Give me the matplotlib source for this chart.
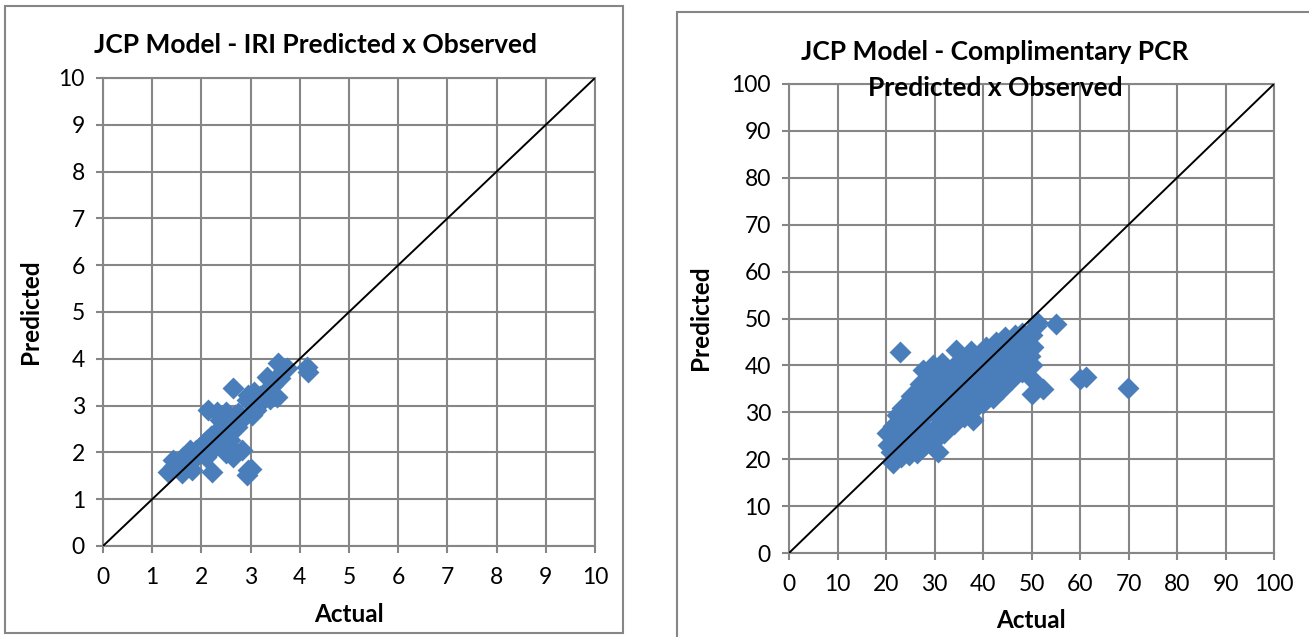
import numpy as np
import matplotlib.pyplot as plt
from matplotlib.patches import Rectangle

# Datos: IRI (actual, predicho)
iri_actual = [4.15, 4.17, 3.56, 3.73, 3.33, 3.46, 2.64, 3.06, 2.95, 3.39, 3.53, 3.26, 2.92,
              2.14, 2.31, 2.51, 2.68, 3.02, 2.38, 2.58, 2.72, 2.45, 2.28, 2.11, 2.38, 2.58,
              1.97, 1.77, 2.17, 2.51, 2.82, 2.65, 1.63, 1.90, 1.43, 1.53, 1.33, 1.60, 1.80,
              2.21, 2.95, 2.92, 3.00, 1.50, 1.70, 1.85, 2.00, 2.05, 2.20, 2.30, 2.40, 1.65,
              1.90, 2.10, 2.25, 2.45, 2.60, 2.75, 2.80, 3.20, 3.35, 3.45, 3.60, 3.40, 1.45,
              1.75, 2.35, 2.55, 3.10, 3.65]
iri_pred = [3.83, 3.72, 3.90, 3.80, 3.62, 3.51, 3.37, 3.30, 3.23, 3.26, 3.19, 3.12, 3.12,
            2.91, 2.87, 2.87, 2.80, 2.80, 2.69, 2.62, 2.55, 2.48, 2.34, 2.26, 2.26, 2.26,
            2.12, 2.05, 2.05, 1.98, 2.05, 1.91, 1.91, 1.91, 1.84, 1.69, 1.59, 1.55, 1.62,
            1.59, 1.62, 1.52, 1.65, 1.75, 1.80, 1.95, 2.00, 2.20, 2.35, 2.20, 2.40, 1.65,
            2.05, 1.90, 2.10, 2.05, 2.75, 2.85, 2.70, 3.20, 3.35, 3.45, 3.60, 3.15, 1.70,
            1.90, 2.50, 2.15, 2.90, 3.75]

# Datos: PCR complementario (actual, predicho)
pcr_actual = [20.5, 20.2, 21.0, 21.5, 21.8, 21.4, 22.2, 22.0,
              23.0, 23.5, 23.2, 23.8, 23.4, 22.9,
              24.8, 25.3, 25.0, 25.5, 24.7, 25.2,
              26.3, 26.6, 26.2, 26.8, 26.4, 27.0,
              28.0, 28.4, 27.8, 28.5, 28.2, 28.7, 27.6,
              30.0, 30.5, 29.8, 30.4, 30.0, 30.6, 29.6, 30.7,
              32.0, 32.4, 31.8, 32.5, 32.0, 32.6, 31.5,
              34.0, 34.5, 33.8, 34.4, 34.0, 34.6, 34.4,
              36.0, 36.4, 35.8, 36.5, 36.0, 36.5,
              38.0, 38.3, 37.8, 38.5, 38.0, 38.4, 37.5,
              40.0, 40.5, 39.8, 40.4, 40.0, 40.6,
              42.0, 42.4, 41.8, 42.5, 42.0, 42.6,
              44.0, 44.5, 43.8, 44.4, 44.0, 44.6,
              46.0, 46.5, 45.8, 46.4, 46.0, 46.7,
              48.0, 48.5, 47.8, 48.4, 48.0,
              50.0, 49.6, 50.4, 50.0, 51.0, 51.1,
              50.0, 52.4, 50.3, 55.1, 60.0, 61.2, 69.9]
pcr_pred = [23.0, 25.5, 21.5, 19.2, 24.0, 27.0, 29.5, 22.0,
            20.5, 23.0, 26.0, 28.5, 31.0, 42.8,
            20.8, 24.2, 27.0, 29.5, 32.0, 33.5,
            21.3, 25.0, 28.0, 31.0, 34.0, 36.0,
            23.0, 26.0, 29.0, 31.5, 34.5, 37.0, 39.0,
            24.0, 27.0, 30.0, 33.0, 35.5, 38.0, 40.0, 21.6,
            25.5, 28.5, 31.0, 34.0, 36.5, 39.0, 40.5,
            27.5, 30.0, 33.0, 35.5, 38.0, 40.5, 43.3,
            29.0, 32.0, 34.5, 37.0, 39.5, 41.5,
            28.4, 31.0, 34.0, 36.5, 39.0, 41.5, 43.0,
            32.0, 34.5, 37.0, 39.5, 42.0, 44.0,
            33.0, 35.5, 38.0, 40.5, 43.0, 45.0,
            35.0, 37.5, 40.0, 42.5, 44.5, 46.0,
            37.0, 38.5, 41.0, 43.0, 45.5, 46.5,
            38.5, 40.5, 42.5, 44.5, 47.0,
            40.0, 42.0, 44.0, 46.5, 48.5, 49.3,
            34.0, 35.0, 36.9, 48.8, 37.0, 37.6, 35.2]

W, H = 1309, 637
azul = '#4a7ebb'
gris = '#868686'
fuente = 'Lato'

fig = plt.figure(figsize=(W / 100, H / 100), dpi=100)
plt.rcParams['font.family'] = [fuente, 'DejaVu Sans']

def px(x, y):
    return x / W, 1 - y / H

def caja(x0, y0, x1, y1):
    fig.patches.append(Rectangle((x0 / W, 1 - y1 / H), (x1 - x0) / W, (y1 - y0) / H,
                                 transform=fig.transFigure, fill=False, ec=gris, lw=1.5))

def panel(izq, der, arriba, abajo, xs, ys, lim, paso):
    ax = fig.add_axes([izq / W, 1 - abajo / H, (der - izq) / W, (abajo - arriba) / H])
    ax.set_xlim(0, lim)
    ax.set_ylim(0, lim)
    ticks = np.arange(0, lim + paso, paso)
    ax.set_xticks(ticks)
    ax.set_yticks(ticks)
    ax.grid(True, color=gris, lw=1.5)
    ax.set_axisbelow(True)
    for s in ax.spines.values():
        s.set_color(gris)
        s.set_linewidth(1.5)
    ax.tick_params(colors=gris, labelcolor='black', labelsize=16.5, length=5, width=1.5)
    ax.tick_params(axis='x', pad=10)
    ax.tick_params(axis='y', pad=8)
    ax.scatter(xs, ys, marker='D', s=125, color=azul, linewidths=0, zorder=3, clip_on=False)
    ax.plot([0, lim], [0, lim], color='black', lw=1.4, zorder=4)
    return ax

caja(5, 6, 623, 633)
caja(677, 12, 1320, 650)

panel(103, 595, 78, 546, iri_actual, iri_pred, 10, 1)
panel(789, 1274, 84, 553, pcr_actual, pcr_pred, 100, 10)

kw = dict(fontsize=19, fontweight='bold', ha='center', va='center')
fig.text(*px(315, 45), 'JCP Model - IRI Predicted x Observed', **kw)
fig.text(*px(995, 52), 'JCP Model - Complimentary PCR', **kw)
fig.text(*px(995, 88), 'Predicted x Observed', zorder=5, **kw)

kw2 = dict(fontsize=17.5, fontweight='bold', ha='center', va='center')
fig.text(*px(349, 615), 'Actual', **kw2)
fig.text(*px(1031, 620), 'Actual', **kw2)
fig.text(*px(30, 312), 'Predicted', rotation=90, **kw2)
fig.text(*px(701, 318), 'Predicted', rotation=90, **kw2)

plt.savefig('out.png', dpi=100)
